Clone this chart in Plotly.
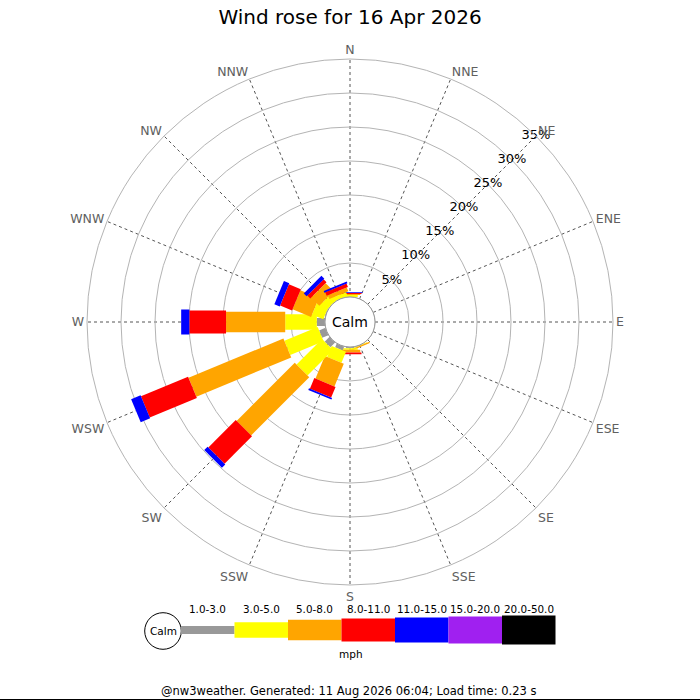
"""
Wind rose for one day: share of time (%) the wind blew from each of 16 directions,
stacked by speed band. Bars are drawn as straight-sided blocks like the jpgraph original.
"""
import math
import plotly.graph_objects as go

DIRECTIONS = ["N", "NNE", "NE", "ENE", "E", "ESE", "SE", "SSE",
              "S", "SSW", "SW", "WSW", "W", "WNW", "NW", "NNW"]
SPEED_BINS = ["1.0-3.0", "3.0-5.0", "5.0-8.0", "8.0-11.0", "11.0-15.0", "15.0-20.0", "20.0-50.0"]
RADIAL_TICKS = [5, 10, 15, 20, 25, 30, 35]

# % of time per direction (N ... NNW), one list per speed band (mph)
PCT_1_3 = [0, 0, 0, 0, 0, 0, 0, 0, 0.2, 0.6, 1.0, 1.0, 1.2, 0.1, 0, 0]
PCT_3_5 = [0.3, 0, 0, 0, 0, 0, 0, 0.1, 0.2, 1.75, 5.3, 5.3, 4.65, 1.8, 1.2, 0.6]
PCT_5_8 = [0.15, 0, 0, 0, 0, 0, 0, 0.2, 0.4, 3.6, 12.1, 15.1, 8.7, 2.95, 1.7, 0.6]
PCT_8_11 = [0.15, 0, 0, 0, 0, 0, 0, 0, 0.25, 1.7, 5.7, 7.5, 5.4, 1.9, 0.6, 0.55]
PCT_11_15 = [0.1, 0, 0, 0, 0, 0, 0, 0, 0, 0.25, 0.7, 1.5, 1.2, 0.85, 0.6, 0.25]
PCT_15_20 = [0] * 16
PCT_20_50 = [0] * 16

bands = [PCT_1_3, PCT_3_5, PCT_5_8, PCT_8_11, PCT_11_15, PCT_15_20, PCT_20_50]
colours = ["#999999", "#ffff00", "#ffa500", "#ff0000", "#0000ff", "#a020f0", "#000000"]
bar_px = [8, 15.5, 20.5, 23, 25, 27, 29]   # block thickness per band, pixels

W = H = 700
CX, CY = 350, 322          # rose centre, pixels
R_OUT, R_CALM = 263, 25    # outer ring and calm circle, pixels
px_per_unit = (R_OUT - R_CALM) / RADIAL_TICKS[-1]
hole_u = R_CALM / px_per_unit
dir_angles = [i * 22.5 for i in range(len(DIRECTIONS))]


def px(x, y):
    return x / W, 1 - y / H


def block(theta, r0, r1, half):
    # rectangle along the direction, expressed in polar data coords
    rs, ts = [], []
    for d, s in ((r0, -1), (r1, -1), (r1, 1), (r0, 1), (r0, -1)):
        dd = d + hole_u
        rs.append(math.hypot(dd, half) - hole_u)
        ts.append(theta + s * math.degrees(math.atan2(half, dd)))
    return rs, ts


def note(x, y, text, size):
    fig.add_annotation(x=x / W, y=1 - y / H, xref="paper", yref="paper", text=text,
                       xanchor="center", yanchor="middle", showarrow=False,
                       font=dict(size=size, color="black"))


fig = go.Figure()

for i, name in enumerate(DIRECTIONS):
    base = 0
    for b, band in enumerate(bands):
        v = band[i]
        if v <= 0:
            continue
        rs, ts = block(dir_angles[i], base, base + v, bar_px[b] / 2 / px_per_unit)
        fig.add_trace(go.Scatterpolar(
            r=rs, theta=ts, mode="lines", fill="toself",
            fillcolor=colours[b], line=dict(width=0, color=colours[b]),
            showlegend=False, hoverinfo="skip"))
        base += v

# radial % labels along the NE spoke
fig.add_trace(go.Scatterpolar(
    r=RADIAL_TICKS, theta=[45] * len(RADIAL_TICKS), mode="text",
    text=[f"{t}%" for t in RADIAL_TICKS], textposition="middle center",
    textfont=dict(size=13, color="black", family="DejaVu Sans"),
    cliponaxis=False, showlegend=False, hoverinfo="skip"))

fig.update_layout(
    width=W, height=H,
    margin=dict(l=0, r=0, t=0, b=0),
    paper_bgcolor="white",
    font=dict(family="DejaVu Sans", color="black"),
    title=dict(text="Wind rose for 16 Apr 2026", x=0.5, xanchor="center",
               y=1 - 17 / H, yanchor="middle",
               font=dict(size=20, color="black", family="DejaVu Sans")),
    polar=dict(
        domain=dict(x=[(CX - R_OUT) / W, (CX + R_OUT) / W],
                    y=[1 - (CY + R_OUT) / H, 1 - (CY - R_OUT) / H]),
        hole=R_CALM / R_OUT,
        bgcolor="white",
        radialaxis=dict(range=[0, RADIAL_TICKS[-1]], tickvals=RADIAL_TICKS,
                        showticklabels=False, ticks="", showline=False,
                        gridcolor="#b4b4b4", gridwidth=1),
        angularaxis=dict(rotation=90, direction="clockwise", thetaunit="degrees",
                         tickmode="array", tickvals=dir_angles,
                         ticktext=DIRECTIONS, ticks="",
                         tickfont=dict(size=12.5, color="#606060", family="DejaVu Sans"),
                         gridcolor="#555555", griddash="dot", gridwidth=1,
                         showline=True, linecolor="#b4b4b4", linewidth=1),
    ),
)

# calm circle in the middle
x0, y0 = px(CX - R_CALM, CY - R_CALM)
x1, y1 = px(CX + R_CALM, CY + R_CALM)
fig.add_shape(type="circle", xref="paper", yref="paper", x0=x0, y0=y1, x1=x1, y1=y0,
              fillcolor="white", line=dict(color="#999999", width=1))
note(CX, CY, "Calm", 14)

# speed legend
LEG_X0, LEG_Y, SEG = 181, 630, 53.5
cx_, cy_, cr = 163, 631, 18.3
x0, y0 = px(cx_ - cr, cy_ - cr)
x1, y1 = px(cx_ + cr, cy_ + cr)
fig.add_shape(type="circle", xref="paper", yref="paper", x0=x0, y0=y1, x1=x1, y1=y0,
              fillcolor="white", line=dict(color="black", width=1))
note(cx_, cy_, "Calm", 10.5)
for b, label in enumerate(SPEED_BINS):
    xa = LEG_X0 + b * SEG
    x0, y0 = px(xa, LEG_Y - bar_px[b] / 2)
    x1, y1 = px(xa + SEG, LEG_Y + bar_px[b] / 2)
    fig.add_shape(type="rect", xref="paper", yref="paper", x0=x0, y0=y1, x1=x1, y1=y0,
                  fillcolor=colours[b], line=dict(width=0))
    note(xa + SEG / 2, 608.5, label, 10.4)
note(351, 654, "mph", 10.5)

note(348, 691, "@nw3weather. Generated: 11 Aug 2026 06:04; Load time: 0.23 s", 11.5)
fig.add_shape(type="line", xref="paper", yref="paper", x0=0, x1=1, y0=0.5 / H, y1=0.5 / H,
              line=dict(color="black", width=1))

fig.write_html("out.html", config={"displayModeBar": False},
               post_script="document.body.style.margin='0px';")
